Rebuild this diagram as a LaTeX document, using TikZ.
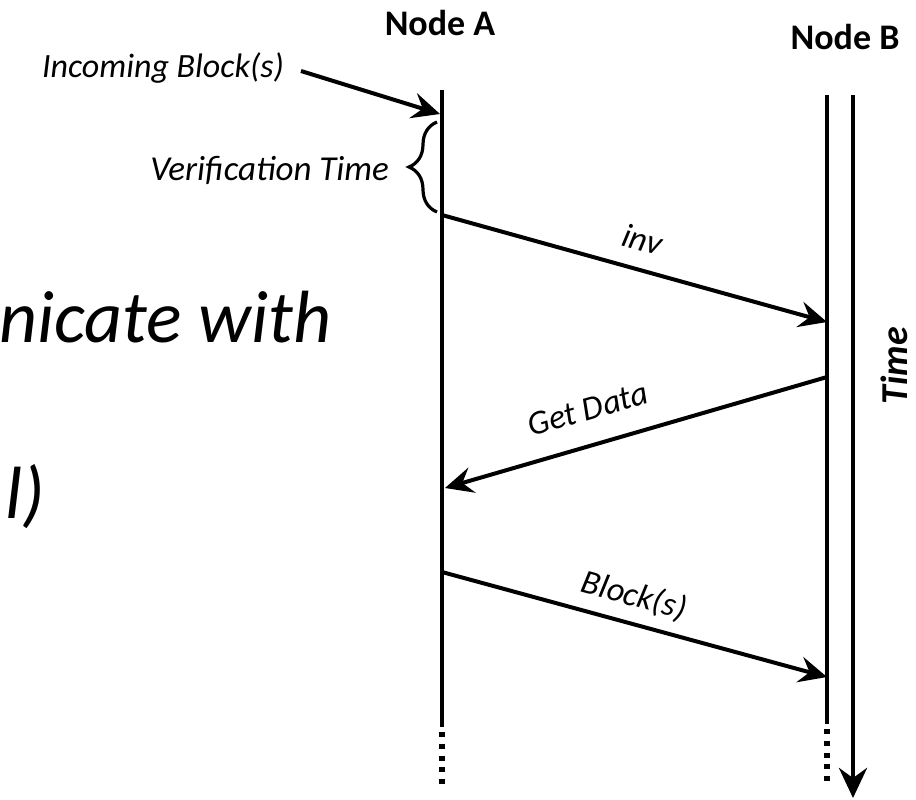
\documentclass[tikz,border=0pt]{standalone}
\usepackage{fontspec}
\setmainfont{Carlito}
\usetikzlibrary{arrows.meta,decorations.pathreplacing}
\begin{document}
\begin{tikzpicture}[x=0.5pt,y=-0.5pt,
  lifeline/.style={line width=2pt},
  dotsline/.style={line width=2.6pt,dash pattern=on 2.5pt off 3.4pt},
  msg/.style={line width=2pt,-{Stealth[length=14pt,width=13pt,inset=5pt]}},
  msglabel/.style={font=\fontsize{17pt}{20pt}\selectfont\itshape,sloped},
  sidelabel/.style={font=\fontsize{17pt}{20pt}\selectfont\itshape,anchor=east},
  slidetext/.style={font=\fontsize{37pt}{42pt}\selectfont\itshape,anchor=base west},
  headlabel/.style={font=\fontsize{18pt}{22pt}\selectfont\bfseries}]
\useasboundingbox (0,0) rectangle (916,799);

% column headings
\node[headlabel] (hA) at (440,23) {Node A};
\node[headlabel] (hB) at (845,37) {Node B};

% lifeline ends
\coordinate (a0) at (442,90);
\coordinate (a1) at (442,727);
\coordinate (a2) at (442,790);
\coordinate (b0) at (827,95);
\coordinate (b1) at (827,724);
\coordinate (b2) at (827,787);
\draw[lifeline] (a0) -- (a1);
\draw[lifeline] (b0) -- (b1);
\draw[dotsline] (a1) ++(0,5) -- (a2);
\draw[dotsline] (b1) ++(0,5) -- (b2);

% time axis
\coordinate (t0) at (853,95);
\coordinate (t1) at (853,798);
\draw[line width=2.4pt,-{Stealth[length=15pt,width=14pt,inset=5pt]}] (t0) -- (t1);
\node[font=\fontsize{19pt}{22pt}\selectfont\bfseries\itshape,rotate=90] (time) at (894,366) {Time};

% incoming blocks
\node[sidelabel] (inc) at (291,68) {Incoming Block(s)};
\coordinate (inTip) at (440,114);
\draw[msg] (inc.east) ++(10,3) coordinate (inStart) -- (inTip);

% verification interval
\coordinate (vTop) at (437,122);
\coordinate (vBot) at (437,212);
\draw[line width=1.6pt,decorate,decoration={brace,amplitude=14pt}] (vBot) -- (vTop);
\node[sidelabel,font=\fontsize{17.5pt}{20pt}\selectfont\itshape] (ver) at (396,170) {Verif{}ication Time};

% messages
\coordinate (m1s) at (442,215);
\coordinate (m1e) at (827,322);
\coordinate (m2s) at (827,377);
\coordinate (m2e) at (445,488);
\coordinate (m3s) at (442,572);
\coordinate (m3e) at (827,677);
\draw[msg] (m1s) -- node[msglabel,pos=0.5,above=5pt] {inv} (m1e);
\draw[msg] (m2s) -- node[msglabel,pos=0.6,above=8pt] {Get Data} (m2e);
\draw[msg] (m3s) -- node[msglabel,pos=0.48,above=2pt] {Block(s)} (m3e);

% slide text running in from the left
\node[slidetext] (t1l) at (-8,342) {nicate with};
\node[slidetext] (t2l) at (-2,518) {l)};
\end{tikzpicture}
\end{document}
